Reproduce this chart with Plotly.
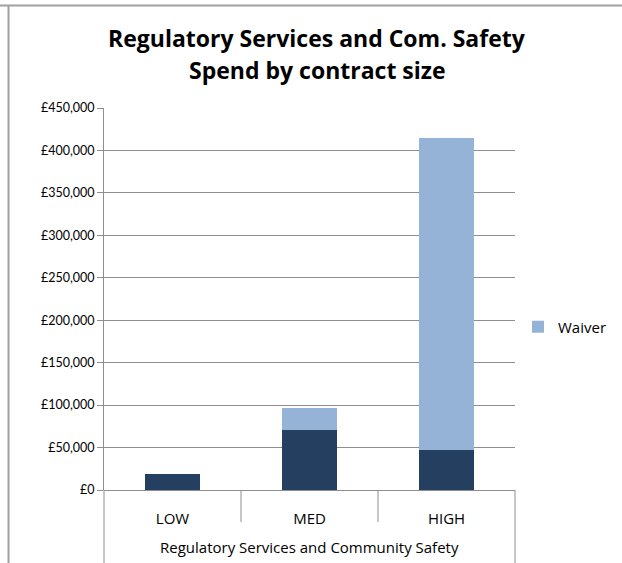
import plotly.graph_objects as go

categories = ["LOW", "MED", "HIGH"]
group_label = "Regulatory Services and Community Safety"
base_values = [18500, 71000, 47000]      # dark series (no legend entry)
waiver_values = [0, 26000, 368000]        # Waiver series
title_line1 = "Regulatory Services and Com. Safety"
title_line2 = "Spend by contract size"

W, H = 622, 563
L, R, T, B = 104, 515, 108, 490  # plot area in pixels
pw, ph = R - L, B - T

def px_x(x):
    return (x - L) / pw

def px_y(y):
    return (B - y) / ph

TFONT = "Open Sans, Carlito, Calibri, sans-serif"
NFONT = "Lato, Carlito, Calibri, sans-serif"
GRID = "#8E8E8E"
BORDER = "#A0A0A0"

fig = go.Figure()
fig.add_trace(go.Bar(
    x=categories, y=base_values, name="Base", showlegend=False,
    marker=dict(color="#243F60", line=dict(width=0)),
))
fig.add_trace(go.Bar(
    x=categories, y=waiver_values, name="Waiver",
    marker=dict(color="#95B3D7", line=dict(width=0)),
))

shapes = []
for xv in [0.5, 1.5]:
    shapes.append(dict(type="line", xref="x", yref="paper", x0=xv, x1=xv,
                       y0=0, y1=px_y(522), line=dict(color=GRID, width=1)))
for xp in [0, 1]:
    shapes.append(dict(type="line", xref="paper", yref="paper", x0=xp, x1=xp,
                       y0=0, y1=px_y(563), line=dict(color=GRID, width=1)))
shapes.append(dict(type="line", xref="paper", yref="paper",
                   x0=px_x(0), x1=px_x(622), y0=px_y(5.5), y1=px_y(5.5),
                   line=dict(color=BORDER, width=2)))
shapes.append(dict(type="line", xref="paper", yref="paper",
                   x0=px_x(8.5), x1=px_x(8.5), y0=px_y(5), y1=px_y(563),
                   line=dict(color=BORDER, width=2)))

annotations = [
    dict(text="<b>%s</b>" % title_line1, xref="paper", yref="paper",
         x=px_x(317), y=px_y(38), xanchor="center", yanchor="middle",
         showarrow=False, font=dict(family=TFONT, size=23, color="#000000")),
    dict(text="<b>%s</b>" % title_line2, xref="paper", yref="paper",
         x=px_x(317), y=px_y(70), xanchor="center", yanchor="middle",
         showarrow=False, font=dict(family=TFONT, size=23, color="#000000")),
    dict(text=group_label, xref="paper", yref="paper",
         x=0.5, y=px_y(547), xanchor="center", yanchor="middle",
         showarrow=False, font=dict(family=TFONT, size=15, color="#000000")),
]

fig.update_layout(
    width=W, height=H,
    margin=dict(l=L, r=W - R, t=T, b=H - B, pad=0, autoexpand=False),
    paper_bgcolor="white", plot_bgcolor="white",
    barmode="stack", bargap=0.6,
    font=dict(family=TFONT, size=15, color="#000000"),
    showlegend=True,
    legend=dict(x=px_x(518), y=px_y(327), xanchor="left", yanchor="middle",
                font=dict(family=TFONT, size=15, color="#000000"),
                bgcolor="rgba(0,0,0,0)", itemwidth=30),
    shapes=shapes,
    annotations=annotations,
    xaxis=dict(
        type="category", showgrid=False, zeroline=False,
        showline=False, ticks="outside", ticklen=15,
        tickcolor="rgba(0,0,0,0)", tickfont=dict(family=TFONT, size=15),
    ),
    yaxis=dict(
        range=[0, 450000], dtick=50000, tickprefix="£", tickformat=",d",
        showgrid=True, gridcolor=GRID, gridwidth=1,
        showline=True, linecolor=GRID, linewidth=1,
        ticks="outside", ticklen=6, tickcolor=GRID,
        zeroline=True, zerolinecolor=GRID, zerolinewidth=1,
        tickfont=dict(family=NFONT, size=12.5),
    ),
)

fig.write_html("out.html", config={"displayModeBar": False},
               post_script="document.body.style.margin='0';")
